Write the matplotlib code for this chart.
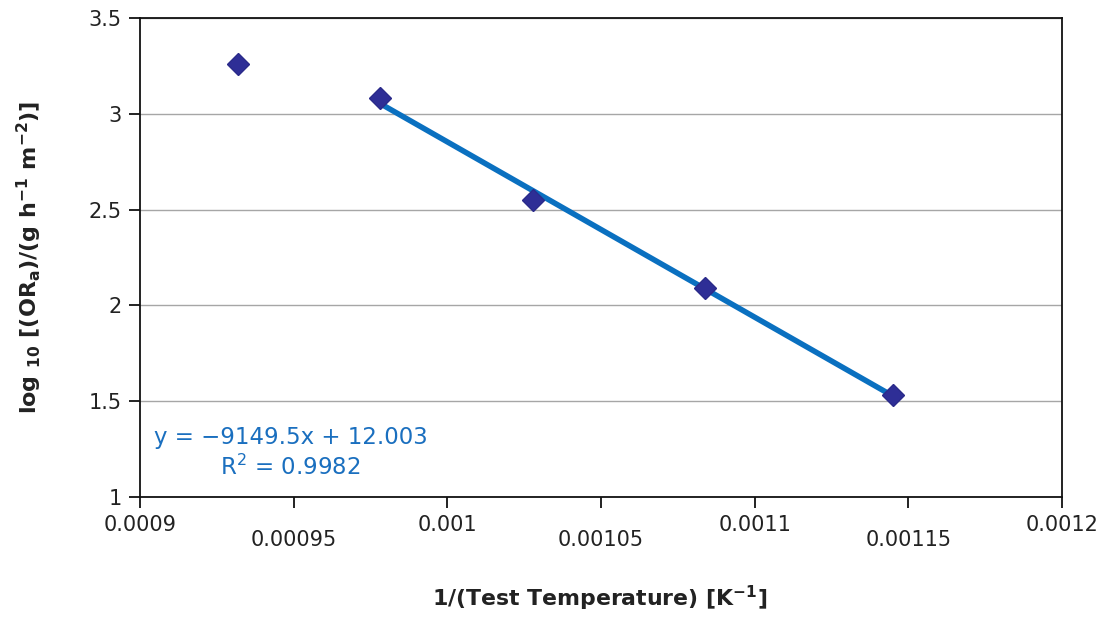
import matplotlib.pyplot as plt
import matplotlib.transforms as mtransforms
import numpy as np

# measured points
inv_temp = [0.000932, 0.000978, 0.001028, 0.001084, 0.001145]
log_rate = [3.26, 3.08, 2.55, 2.09, 1.53]

# trendline as printed on the chart (fitted over the last four points)
slope = -9149.5
intercept = 12.003
r_squared = 0.9982

x_ticks = [0.0009, 0.00095, 0.001, 0.00105, 0.0011, 0.00115, 0.0012]
x_tick_labels = ['0.0009', '0.00095', '0.001', '0.00105', '0.0011', '0.00115', '0.0012']
y_ticks = [1, 1.5, 2, 2.5, 3, 3.5]
y_tick_labels = ['1', '1.5', '2', '2.5', '3', '3.5']

fig = plt.figure(figsize=(11.05, 6.18), dpi=100)
ax = fig.add_axes([140 / 1105, 1 - 497 / 618, 922 / 1105, 479 / 618])

ax.set_xlim(0.0009, 0.0012)
ax.set_ylim(1, 3.5)
ax.set_yticks(y_ticks)
ax.set_yticklabels(y_tick_labels)
ax.set_xticks(x_ticks)
ax.set_xticklabels(x_tick_labels)
ax.grid(axis='y', color='#a6a6a6', linewidth=1)
ax.set_axisbelow(True)
for s in ax.spines.values():
    s.set_color('#111111')
    s.set_linewidth(1.3)
ax.tick_params(direction='out', length=8, width=1.3, colors='#111111',
               labelsize=15, labelcolor='#222222', pad=5)

# staggered x tick labels, like the original
shift = mtransforms.ScaledTranslation(0, -0.15, fig.dpi_scale_trans)
for i, lab in enumerate(ax.get_xticklabels()):
    if i % 2 == 1:
        lab.set_transform(lab.get_transform() + shift)

fit_x = np.array([inv_temp[1], inv_temp[-1]])
ax.plot(fit_x, slope * fit_x + intercept, color='#0a70c0', linewidth=4,
        solid_capstyle='butt', zorder=2)
ax.plot(inv_temp, log_rate, linestyle='none', marker='D', markersize=11,
        color='#2e2e96', markeredgecolor='#2a2a8a', zorder=3)

ax.text(0.000949, 1.23,
        'y = \u22129149.5x + 12.003\nR$^{2}$ = %.4f' % r_squared,
        ha='center', va='center', color='#1a6fbf', fontsize=16.5,
        linespacing=1.25)

fig.text(600 / 1105, 1 - 598 / 618, '1/(Test Temperature) [K$^{\\mathbf{-1}}$]',
         ha='center', va='center', fontsize=15.8, fontweight='bold',
         color='#222222')
fig.text(29 / 1105, 1 - 257 / 618,
         'log $_{\\mathbf{10}}$ [(OR$_{\\mathbf{a}}$)/(g h$^{\\mathbf{-1}}$ m$^{\\mathbf{-2}}$)]',
         ha='center', va='center', rotation=90, fontsize=16,
         fontweight='bold', color='#222222')

fig.savefig('out.png', dpi=100)
